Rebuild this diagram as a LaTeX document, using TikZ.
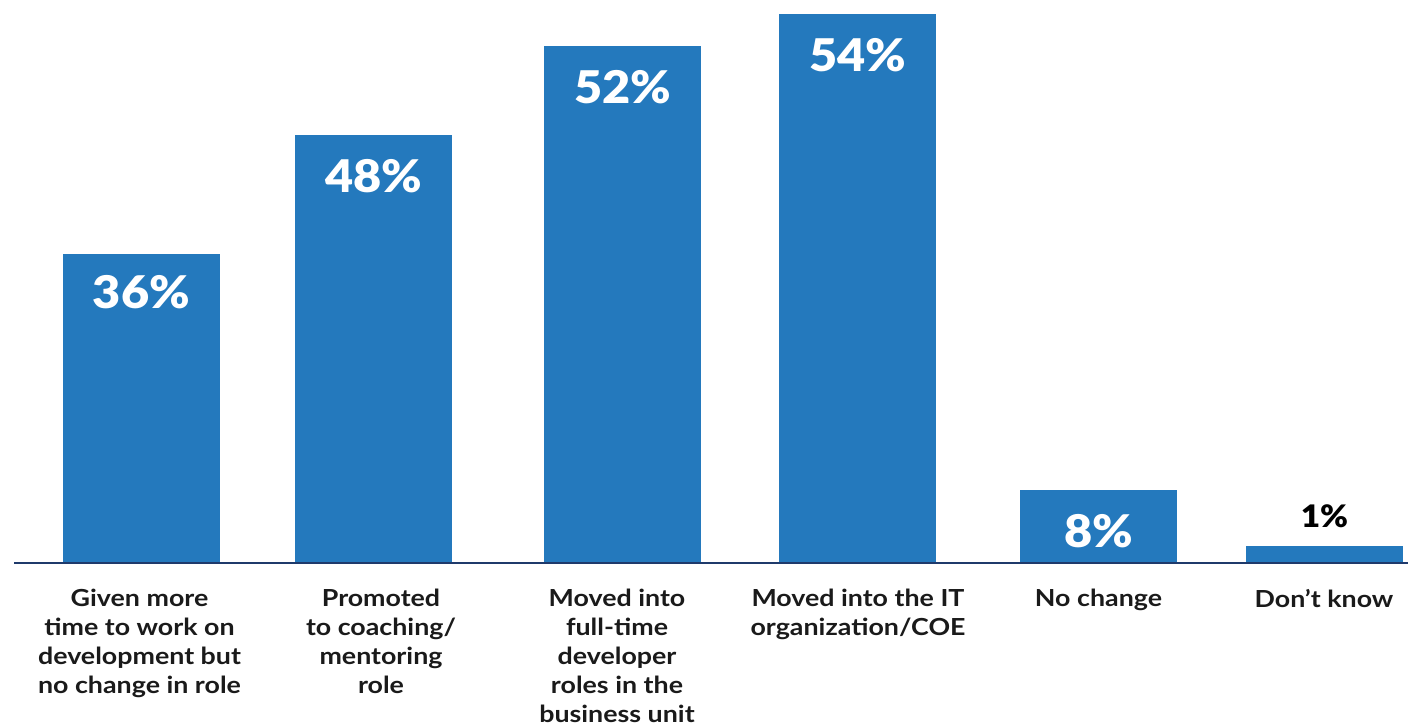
\documentclass[tikz,border=0pt]{standalone}
\usepackage{fontspec}
\setmainfont{Lato}[FakeStretch=1.14]
\newfontfamily\pctfont{Lato Black}[FakeStretch=1.08]
\definecolor{barblue}{HTML}{2479BD}
\definecolor{axisnavy}{HTML}{1F3A6B}
\definecolor{labeltext}{HTML}{1A1A1A}
\begin{document}
\begin{tikzpicture}[x=1pt,y=-1pt,
  bar/.style={fill=barblue,draw=none},
  pct/.style={font=\fontsize{45}{45}\selectfont\pctfont,text=white,inner sep=0,anchor=center},
  pctout/.style={font=\fontsize{31}{31}\selectfont\pctfont,text=black,inner sep=0,anchor=center},
  cat/.style={font=\fontsize{23.5}{29}\selectfont\bfseries,text=labeltext,align=center,inner sep=0,anchor=north}]
\useasboundingbox (0,0) rectangle (1408,726);
% bars
\path[bar] (63,254) rectangle (220,563);
\path[bar] (295,135) rectangle (452,563);
\path[bar] (544,46) rectangle (701,563);
\path[bar] (779,14) rectangle (936,563);
\path[bar] (1020,490) rectangle (1177,563);
\path[bar] (1246,546) rectangle (1403,563);
% axis
\coordinate (axL) at (14,563);
\coordinate (axR) at (1408,563);
\draw[axisnavy,line width=2.2pt] (axL) -- (axR);
% percentages
\node[pct] (p1) at (141.5,292) {36\%};
\node[pct] (p2) at (373.5,176) {48\%};
\node[pct] (p3) at (622.5,87) {52\%};
\node[pct] (p4) at (857.5,55) {54\%};
\node[pct] (p5) at (1098.5,531) {8\%};
\node[pctout] (p6) at (1324.5,516) {1\%};
% categories
\node[cat] (c1) at (139.5,589) {Given more\\time to work on\\development but\\no change in role};
\node[cat] (c2) at (381,589) {Promoted\\to coaching/\\mentoring\\role};
\node[cat] (c3) at (617,589) {Moved into\\full-time\\developer\\roles in the\\business unit};
\node[cat] (c4) at (858,589) {Moved into the IT\\organization/COE};
\node[cat] (c5) at (1098.5,589) {No change};
\node[cat] (c6) at (1324,589) {Don’t know};
\end{tikzpicture}
\end{document}
